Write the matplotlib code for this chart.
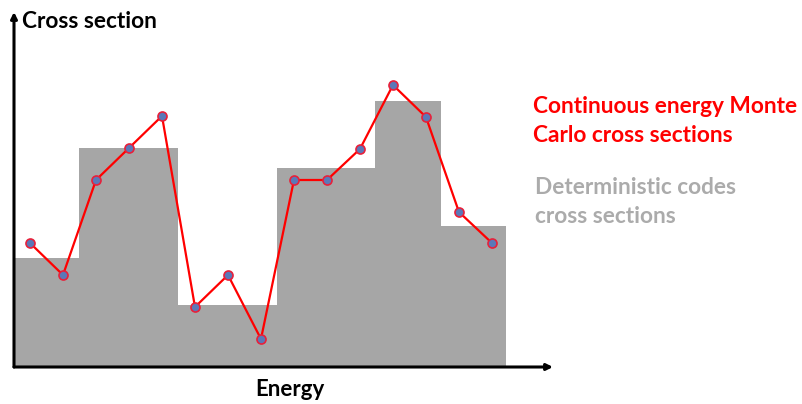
# Cross section sketch: multigroup (stairs) vs continuous energy points

import matplotlib.pyplot as plt

# -----------------------------
# DATA
# -----------------------------

# energy points of the continuous curve (equally spaced)
energy_points = list(range(15))
mc_xs = [12.4, 9.2, 18.7, 21.9, 25.1, 6.0, 9.2, 2.8, 18.7, 18.7,
         21.8, 28.2, 25.0, 15.5, 12.4]

# group boundaries and group-averaged values
group_edges = [-0.5, 1.5, 4.5, 7.5, 10.45, 12.45, 14.42]
group_xs = [10.9, 21.9, 6.2, 19.9, 26.6, 14.1]

# -----------------------------
# FIGURE
# -----------------------------

plt.rcParams['font.family'] = ['Lato', 'DejaVu Sans']

fig = plt.figure(figsize=(8.03, 4.04), dpi=100)
ax = fig.add_axes([14 / 803, 37 / 404, 539 / 803, 355 / 404])

ax.stairs(group_xs, group_edges, fill=True, color='#A6A6A6',
          baseline=0, zorder=1)

ax.plot(energy_points, mc_xs, color='#FF0000', lw=1.6, zorder=2)
ax.plot(energy_points, mc_xs, 'o', ms=6.5, mfc='#5B78B8',
        mec='#E8203A', mew=1.2, zorder=3)

ax.set_xlim(-16 / 33, 15.85)
ax.set_ylim(0, 35.5)

for s in ax.spines.values():
    s.set_visible(False)
ax.set_xticks([])
ax.set_yticks([])

# axes as arrows
arrow = dict(arrowstyle='-|>', lw=2.2, color='black', mutation_scale=9,
             shrinkA=0, shrinkB=0)
ax.annotate('', xy=(1, 0), xytext=(0, 0), xycoords='axes fraction',
            arrowprops=arrow, zorder=4, annotation_clip=False)
ax.annotate('', xy=(0, 1), xytext=(0, 0), xycoords='axes fraction',
            arrowprops=arrow, zorder=4, annotation_clip=False)

# labels
fig.text(22 / 803, 1 - 21 / 404, 'Cross section', fontsize=16.3,
         fontweight='bold', va='center', ha='left')
fig.text(290 / 803, 1 - 390 / 404, 'Energy', fontsize=16,
         fontweight='bold', va='center', ha='center')

fig.text(533 / 803, 1 - 121 / 404, 'Continuous energy Monte\nCarlo cross sections',
         fontsize=16.3, fontweight='bold', color='#FF0000', va='center',
         ha='left', linespacing=1.45)
fig.text(535 / 803, 1 - 202 / 404, 'Deterministic codes\ncross sections',
         fontsize=16.3, fontweight='bold', color='#ABABAB', va='center',
         ha='left', linespacing=1.5)

fig.savefig('out.png', dpi=100)
